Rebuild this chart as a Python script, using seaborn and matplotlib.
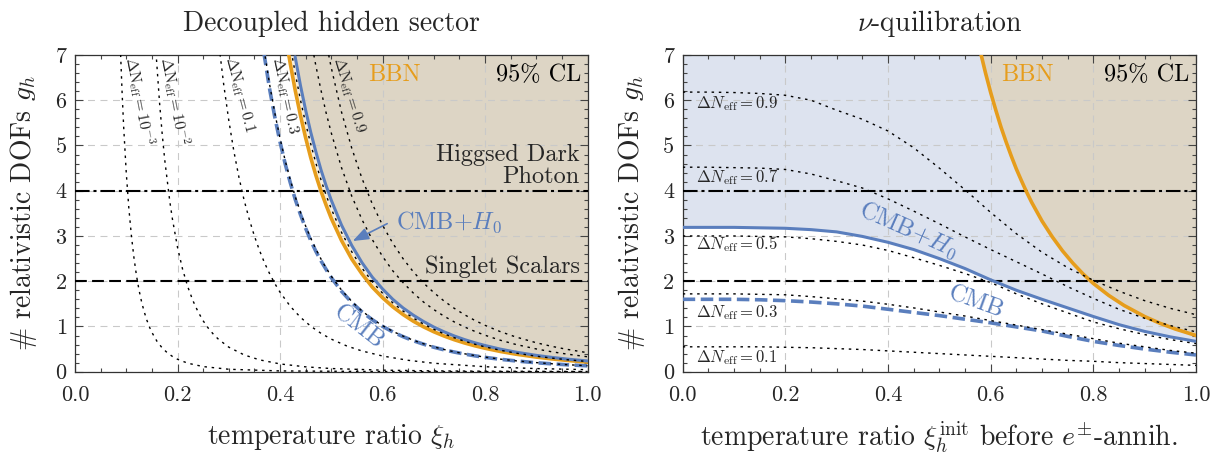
import matplotlib
matplotlib.use("Agg")
import matplotlib.pyplot as plt
import seaborn as sns
from matplotlib.ticker import MultipleLocator

# ---------------- data: left panel (decoupled hidden sector) ----------------
xi_dn_1e3 = [0.089, 0.092, 0.095, 0.10, 0.105, 0.11, 0.115, 0.12, 0.125, 0.13, 0.135, 0.14, 0.145, 0.15, 0.16,
             0.17, 0.18, 0.19, 0.20, 0.22, 0.25, 0.30, 0.40, 0.60, 1.0]
g_dn_1e3 = [7.01, 6.14, 5.40, 4.40, 3.62, 3.01, 2.52, 2.12, 1.80, 1.54, 1.325, 1.145, 0.995, 0.869, 0.671,
            0.527, 0.419, 0.338, 0.275, 0.188, 0.113, 0.054, 0.017, 0.0034, 0.0004]

xi_dn_1e2 = [0.158, 0.165, 0.17, 0.175, 0.185, 0.19, 0.20, 0.21, 0.22, 0.23, 0.24, 0.25, 0.26, 0.27, 0.28, 0.30,
             0.33, 0.36, 0.40, 0.45, 0.50, 0.60, 0.70, 0.80, 1.0]
g_dn_1e2 = [7.06, 5.94, 5.27, 4.69, 3.76, 3.38, 2.75, 2.26, 1.878, 1.572, 1.326, 1.126, 0.963, 0.828, 0.716, 0.543,
            0.371, 0.262, 0.172, 0.107, 0.070, 0.034, 0.018, 0.011, 0.0044]

xi_dn_01 = [0.283, 0.29, 0.30, 0.31, 0.32, 0.33, 0.34, 0.35, 0.36, 0.37, 0.38, 0.39, 0.40, 0.42, 0.44, 0.46, 0.48,
            0.50, 0.53, 0.56, 0.60, 0.65, 0.70, 0.80, 0.90, 1.0]
g_dn_01 = [7.02, 6.36, 5.56, 4.87, 4.29, 3.79, 3.37, 3.00, 2.68, 2.40, 2.16, 1.945, 1.758, 1.446, 1.201, 1.005, 0.848,
           0.720, 0.570, 0.458, 0.347, 0.252, 0.187, 0.110, 0.069, 0.045]

xi_dn_03 = [0.371, 0.38, 0.39, 0.40, 0.41, 0.42, 0.43, 0.44, 0.45, 0.46, 0.47, 0.48, 0.49, 0.50, 0.52, 0.54, 0.56,
            0.58, 0.60, 0.62, 0.64, 0.66, 0.68, 0.70, 0.72, 0.74, 0.76, 0.78, 0.80, 0.83, 0.86, 0.90, 0.93, 0.96, 1.0]
g_dn_03 = [6.97, 6.33, 5.71, 5.16, 4.67, 4.24, 3.86, 3.52, 3.22, 2.95, 2.71, 2.49, 2.29, 2.11, 1.805, 1.552, 1.342,
           1.166, 1.019, 0.893, 0.787, 0.696, 0.617, 0.550, 0.491, 0.440, 0.396, 0.357, 0.322, 0.278, 0.241, 0.201,
           0.176, 0.155, 0.132]

xi_dn_05 = [0.4245, 0.43, 0.44, 0.45, 0.46, 0.47, 0.48, 0.49, 0.50, 0.52, 0.54, 0.56, 0.58, 0.60, 0.62, 0.64, 0.66,
            0.68, 0.70, 0.72, 0.74, 0.76, 0.78, 0.80, 0.83, 0.86, 0.90, 0.93, 0.96, 1.0]
g_dn_05 = [6.93, 6.58, 6.00, 5.49, 5.03, 4.61, 4.24, 3.90, 3.60, 3.08, 2.65, 2.29, 1.99, 1.736, 1.523, 1.341, 1.186,
           1.052, 0.937, 0.837, 0.750, 0.674, 0.608, 0.549, 0.474, 0.411, 0.343, 0.301, 0.265, 0.225]

xi_dn_07 = [0.466, 0.47, 0.48, 0.49, 0.50, 0.52, 0.54, 0.56, 0.58, 0.60, 0.62, 0.64, 0.66, 0.68, 0.70, 0.72, 0.74,
            0.76, 0.78, 0.80, 0.83, 0.86, 0.90, 0.93, 0.96, 1.0]
g_dn_07 = [7.00, 6.76, 6.22, 5.72, 5.28, 4.51, 3.88, 3.36, 2.92, 2.55, 2.23, 1.97, 1.74, 1.54, 1.374, 1.228, 1.100,
           0.989, 0.892, 0.806, 0.695, 0.603, 0.503, 0.441, 0.389, 0.33]

xi_dn_09 = [0.495, 0.50, 0.52, 0.54, 0.56, 0.58, 0.60, 0.62, 0.64, 0.66, 0.68, 0.70, 0.72, 0.74, 0.76, 0.78, 0.80,
            0.83, 0.86, 0.90, 0.93, 0.96, 1.0]
g_dn_09 = [7.00, 6.72, 5.74, 4.94, 4.27, 3.71, 3.24, 2.84, 2.50, 2.21, 1.96, 1.75, 1.563, 1.401, 1.259, 1.135, 1.025,
           0.885, 0.768, 0.640, 0.561, 0.494, 0.42]

xi_bbn_L = [0.4165, 0.42, 0.43, 0.44, 0.45, 0.46, 0.47, 0.48, 0.49, 0.50, 0.52, 0.54, 0.56, 0.58, 0.60, 0.62, 0.64,
            0.66, 0.68, 0.70, 0.72, 0.74, 0.76, 0.78, 0.80, 0.83, 0.86, 0.90, 0.93, 0.96, 1.0]
g_bbn_L = [7.04, 6.81, 6.20, 5.66, 5.17, 4.73, 4.34, 3.99, 3.68, 3.39, 2.90, 2.49, 2.16, 1.87, 1.636, 1.435, 1.264,
           1.117, 0.992, 0.883, 0.789, 0.707, 0.635, 0.573, 0.518, 0.447, 0.388, 0.323, 0.283, 0.250, 0.212]

xi_cmbh0_L = [0.4295, 0.44, 0.45, 0.46, 0.47, 0.48, 0.49, 0.50, 0.52, 0.54, 0.56, 0.58, 0.60, 0.62, 0.64, 0.66,
              0.68, 0.70, 0.72, 0.74, 0.76, 0.78, 0.80, 0.83, 0.86, 0.90, 0.93, 0.96, 1.0]
g_cmbh0_L = [6.96, 6.32, 5.78, 5.29, 4.86, 4.46, 4.11, 3.79, 3.24, 2.79, 2.41, 2.09, 1.83, 1.60, 1.41, 1.25,
             1.11, 0.987, 0.882, 0.790, 0.710, 0.640, 0.579, 0.499, 0.433, 0.361, 0.317, 0.279, 0.237]

xi_cmb_L = [0.3685, 0.38, 0.39, 0.40, 0.41, 0.42, 0.43, 0.44, 0.45, 0.46, 0.47, 0.48, 0.49, 0.50, 0.52, 0.54, 0.56,
            0.58, 0.60, 0.62, 0.64, 0.66, 0.68, 0.70, 0.72, 0.74, 0.76, 0.78, 0.80, 0.83, 0.86, 0.90, 0.93, 0.96, 1.0]
g_cmb_L = [7.05, 6.23, 5.62, 5.08, 4.60, 4.18, 3.80, 3.47, 3.17, 2.90, 2.66, 2.45, 2.26, 2.08, 1.778, 1.529, 1.322,
           1.149, 1.003, 0.880, 0.775, 0.685, 0.608, 0.541, 0.484, 0.434, 0.390, 0.351, 0.317, 0.274, 0.238, 0.198,
           0.174, 0.153, 0.130]

# ---------------- data: right panel (nu-quilibration) ----------------
xi_R = [0.0, 0.05, 0.1, 0.15, 0.2, 0.25, 0.3, 0.35, 0.4, 0.45, 0.5, 0.55, 0.6, 0.65, 0.7, 0.75, 0.8, 0.85, 0.9, 0.95, 1.0]
g_nu_09 = [6.18, 6.18, 6.17, 6.15, 6.11, 6.00, 5.78, 5.58, 5.32, 4.95, 4.50, 4.02, 3.52, 3.05, 2.64, 2.30, 2.02, 1.78, 1.57, 1.40, 1.26]
g_nu_07 = [4.52, 4.52, 4.51, 4.50, 4.47, 4.37, 4.22, 4.06, 3.82, 3.55, 3.27, 2.98, 2.70, 2.43, 2.16, 1.88, 1.62, 1.38, 1.18, 1.02, 0.88]
g_nu_05 = [3.00, 3.00, 3.00, 2.99, 2.98, 2.94, 2.88, 2.80, 2.68, 2.52, 2.35, 2.17, 1.97, 1.72, 1.50, 1.30, 1.10, 0.95, 0.82, 0.71, 0.62]
g_nu_03 = [1.72, 1.72, 1.72, 1.71, 1.70, 1.66, 1.61, 1.56, 1.49, 1.41, 1.32, 1.23, 1.13, 1.03, 0.93, 0.83, 0.73, 0.63, 0.55, 0.47, 0.41]
g_nu_01 = [0.55, 0.55, 0.55, 0.55, 0.54, 0.53, 0.51, 0.49, 0.46, 0.43, 0.40, 0.37, 0.34, 0.31, 0.28, 0.25, 0.23, 0.20, 0.18, 0.16, 0.14]
g_cmbh0_R = [3.19, 3.19, 3.19, 3.18, 3.17, 3.14, 3.09, 2.99, 2.86, 2.70, 2.50, 2.28, 2.03, 1.80, 1.60, 1.41, 1.22, 1.04, 0.89, 0.77, 0.67]
g_cmb_R = [1.60, 1.60, 1.60, 1.59, 1.57, 1.54, 1.50, 1.45, 1.38, 1.31, 1.24, 1.16, 1.08, 0.99, 0.90, 0.78, 0.67, 0.58, 0.50, 0.43, 0.37]

xi_bbn_R = [0.580, 0.59, 0.600, 0.61, 0.62, 0.63, 0.64, 0.65, 0.66, 0.67, 0.68, 0.70, 0.72, 0.74, 0.76, 0.78, 0.80,
            0.83, 0.86, 0.90, 0.93, 0.96, 1.0]
g_bbn_R = [7.07, 6.60, 6.17, 5.78, 5.41, 5.08, 4.77, 4.48, 4.22, 3.97, 3.74, 3.33, 2.98, 2.67, 2.40, 2.16, 1.95,
           1.686, 1.463, 1.219, 1.069, 0.942, 0.80]

model_lines = [4, 2]          # Higgsed dark photon, singlet scalars
dn_labels_L = [r"$\Delta\mathrm{N}_{\mathrm{eff}}=10^{-3}$", r"$\Delta\mathrm{N}_{\mathrm{eff}}=10^{-2}$",
               r"$\Delta\mathrm{N}_{\mathrm{eff}}=0.1$", r"$\Delta\mathrm{N}_{\mathrm{eff}}=0.3$",
               r"$\Delta\mathrm{N}_{\mathrm{eff}}=0.9$"]
dn_labels_R = [r"$\Delta N_{\mathrm{eff}}=0.9$", r"$\Delta N_{\mathrm{eff}}=0.7$", r"$\Delta N_{\mathrm{eff}}=0.5$",
               r"$\Delta N_{\mathrm{eff}}=0.3$", r"$\Delta N_{\mathrm{eff}}=0.1$"]
x_ticks = [0.0, 0.2, 0.4, 0.6, 0.8, 1.0]
y_ticks = [0, 1, 2, 3, 4, 5, 6, 7]

# ---------------- style ----------------
sns.set_theme(style="ticks")
plt.rcParams["font.family"] = ["cmr10", "DejaVu Serif"]
plt.rcParams["mathtext.fontset"] = "cm"
plt.rcParams["axes.formatter.use_mathtext"] = True
plt.rcParams["axes.unicode_minus"] = False
plt.rcParams["lines.scale_dashes"] = False

BLUE = "#5a7ebd"
ORANGE = "#e69d1c"
TAN = "#ddd5c5"
LAV = "#dde3ef"
CREAM = "#f7eedb"
YMAX = 7

DOT = (0, (1.8, 3.4))
DASH_CMB = (0, (9, 4))
DASH_H = (0, (8.5, 3.8))
DASHDOT_H = (0, (10.5, 2.8, 2.2, 2.8))

fig = plt.figure(figsize=(12.2, 4.59), dpi=100)
axL = fig.add_axes([0.06148, 0.19020, 0.42008, 0.68998])
axR = fig.add_axes([0.55959, 0.19020, 0.42074, 0.68998])


def line(ax, x, y, color, lw, ls="-", z=3):
    sns.lineplot(x=x, y=y, ax=ax, color=color, lw=lw, linestyle=ls, sort=False,
                 estimator=None, legend=False, zorder=z)


def style_axes(ax):
    ax.set_xlim(0, 1)
    ax.set_ylim(0, YMAX)
    ax.set_xticks(x_ticks)
    ax.set_yticks(y_ticks)
    ax.set_xticklabels([f"{v:.1f}" for v in x_ticks])
    ax.set_yticklabels([str(v) for v in y_ticks])
    ax.xaxis.set_minor_locator(MultipleLocator(0.05))
    ax.yaxis.set_minor_locator(MultipleLocator(0.2))
    ax.tick_params(which="both", direction="in", top=True, right=True, color="#444444", width=0.8)
    ax.tick_params(which="major", length=6)
    ax.tick_params(which="minor", length=3)
    ax.tick_params(axis="x", labelsize=16, pad=10)
    ax.tick_params(axis="y", labelsize=16, pad=6)
    ax.set_axisbelow(True)
    ax.grid(True, which="major", color="#c9c9c9", lw=0.8, linestyle=(0, (5, 4)))
    for s in ax.spines.values():
        s.set_color("#333333")
        s.set_linewidth(0.9)
    ax.set_ylabel(r"$\#$ relativistic DOFs $g_h$", fontsize=20, labelpad=12)


# ---------------- left panel ----------------
ax = axL
ax.fill_between(xi_bbn_L, g_bbn_L, YMAX, color=CREAM, lw=0, zorder=0.1)
ax.fill_between(xi_cmbh0_L, g_cmbh0_L, YMAX, color=TAN, lw=0, zorder=0.2)
for xs, gs in [(xi_dn_1e3, g_dn_1e3), (xi_dn_1e2, g_dn_1e2), (xi_dn_01, g_dn_01), (xi_dn_03, g_dn_03),
               (xi_dn_05, g_dn_05), (xi_dn_07, g_dn_07), (xi_dn_09, g_dn_09)]:
    line(ax, xs, gs, "black", 1.0, DOT, z=4)
ax.axhline(model_lines[0], color="black", lw=1.5, linestyle=DASHDOT_H, zorder=3)
ax.axhline(model_lines[1], color="black", lw=1.5, linestyle=DASH_H, zorder=3)
line(ax, xi_cmb_L, g_cmb_L, BLUE, 2.6, DASH_CMB, z=3.5)
line(ax, xi_bbn_L, g_bbn_L, ORANGE, 2.6, "-", z=3.6)
line(ax, xi_cmbh0_L, g_cmbh0_L, BLUE, 2.2, "-", z=3.7)

rot_pos = [(0.0976, 6.93, -79), (0.166, 6.93, -79), (0.293, 6.93, -75), (0.386, 6.93, -78), (0.504, 6.93, -73)]
for lab, (px, py, r) in zip(dn_labels_L, rot_pos):
    ax.text(px, py, lab, rotation=r, rotation_mode="anchor", ha="left", va="baseline", fontsize=11.5, zorder=5)

ax.text(0.571, 6.42, "BBN", color=ORANGE, fontsize=17.5, ha="left", va="baseline")
ax.text(0.987, 6.42, "95% CL", color="black", fontsize=17.5, ha="right", va="baseline")
ax.text(0.985, 4.66, "Higgsed Dark", fontsize=17.5, ha="right", va="baseline")
ax.text(0.985, 4.18, "Photon", fontsize=17.5, ha="right", va="baseline")
ax.text(0.985, 2.18, "Singlet Scalars", fontsize=17.5, ha="right", va="baseline")
ax.text(0.626, 3.31, r"CMB+$H_0$", color=BLUE, fontsize=17.5, ha="left", va="center")
ax.annotate("", xy=(0.537, 2.86), xytext=(0.614, 3.30),
            arrowprops=dict(arrowstyle="-|>,head_length=0.8,head_width=0.3", color=BLUE, lw=1.2))
ax.text(0.553, 0.97, "CMB", color=BLUE, fontsize=17.5, rotation=-38, ha="center", va="center",
        rotation_mode="anchor")
style_axes(ax)
ax.set_title("Decoupled hidden sector", fontsize=20, pad=17)
ax.set_xlabel(r"temperature ratio $\xi_h$", fontsize=20, labelpad=12)

# ---------------- right panel ----------------
ax = axR
ax.fill_between(xi_R, g_cmbh0_R, YMAX, color=LAV, lw=0, zorder=0.1)
ax.fill_between(xi_bbn_R, g_bbn_R, YMAX, color=TAN, lw=0, zorder=0.2)
for gs in [g_nu_09, g_nu_07, g_nu_05, g_nu_03, g_nu_01]:
    line(ax, xi_R, gs, "black", 1.0, DOT, z=4)
ax.axhline(model_lines[0], color="black", lw=1.5, linestyle=DASHDOT_H, zorder=3)
ax.axhline(model_lines[1], color="black", lw=1.5, linestyle=DASH_H, zorder=3)
line(ax, xi_R, g_cmb_R, BLUE, 2.6, DASH_CMB, z=3.5)
line(ax, xi_R, g_cmbh0_R, BLUE, 2.2, "-", z=3.7)
line(ax, xi_bbn_R, g_bbn_R, ORANGE, 2.6, "-", z=3.6)

for lab, py in zip(dn_labels_R, [5.82, 4.18, 2.70, 1.20, 0.20]):
    ax.text(0.026, py, lab, fontsize=12, ha="left", va="baseline", zorder=5)

ax.text(0.62, 6.42, "BBN", color=ORANGE, fontsize=17.5, ha="left", va="baseline")
ax.text(0.987, 6.42, "95% CL", color="black", fontsize=17.5, ha="right", va="baseline")
ax.text(0.44, 3.13, r"CMB+$H_0$", color=BLUE, fontsize=17.5, rotation=-24, ha="center", va="center",
        rotation_mode="anchor")
ax.text(0.57, 1.52, "CMB", color=BLUE, fontsize=17.5, rotation=-20, ha="center", va="center",
        rotation_mode="anchor")
style_axes(ax)
ax.set_title(r"$\nu$-quilibration", fontsize=20, pad=17)
ax.set_xlabel(r"temperature ratio $\xi_h^{\mathrm{init}}$ before $e^{\pm}$-annih.", fontsize=20, labelpad=10)

fig.savefig("out.png", dpi=100)
